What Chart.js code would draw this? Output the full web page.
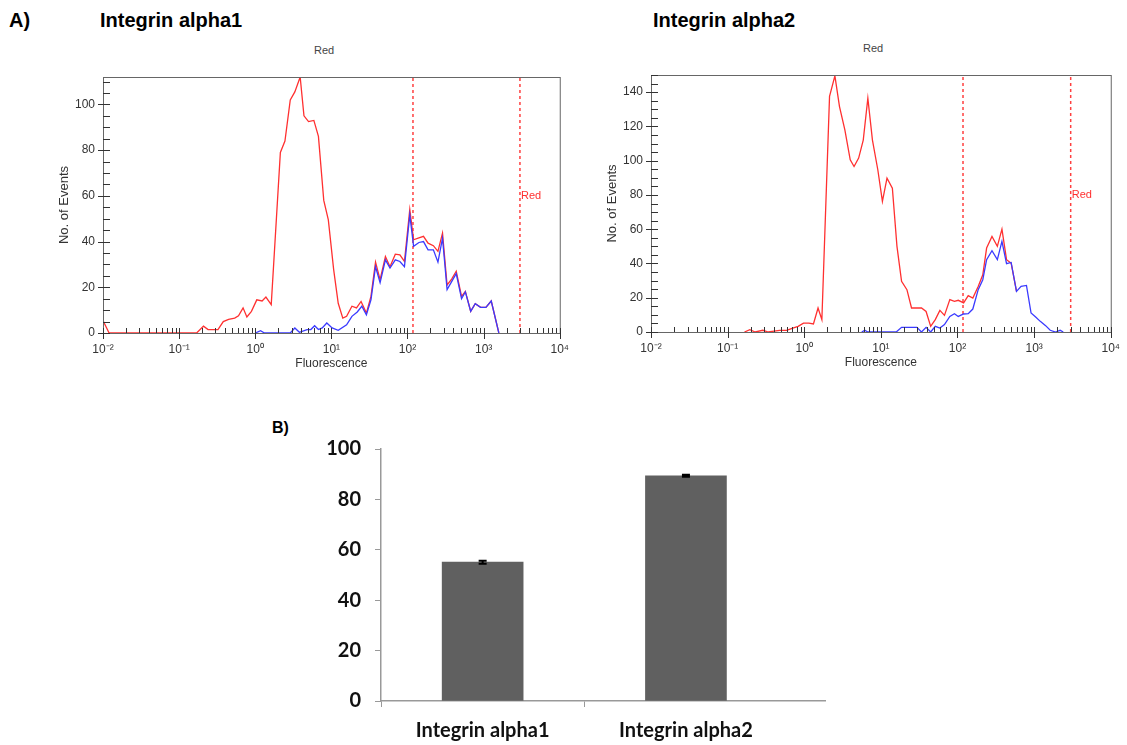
<!DOCTYPE html>
<html>
<head>
<meta charset="utf-8">
<script src="https://cdn.jsdelivr.net/npm/chart.js@4.4.0/dist/chart.umd.min.js"></script>
<style>
body{margin:0;background:#fff;width:1127px;height:745px;position:relative;overflow:hidden;font-family:"Liberation Sans",Arial,sans-serif;}
.big{position:absolute;font-weight:bold;font-size:20px;line-height:20px;color:#000;white-space:nowrap;}
.red{position:absolute;font-size:11px;line-height:11px;color:#444;}
canvas{position:absolute;}
</style>
</head>
<body>
<div class="big" style="left:9px;top:10px">A)</div>
<div class="big" style="left:100px;top:10px">Integrin alpha1</div>
<div class="big" style="left:653px;top:10px">Integrin alpha2</div>
<div class="red" style="left:314px;top:45px">Red</div>
<div class="red" style="left:863px;top:43px">Red</div>
<div class="big" style="left:272px;top:420px;font-size:16px;line-height:16px">B)</div>

<canvas id="h1" width="528" height="311" style="left:50px;top:60px"></canvas>
<canvas id="h2" width="531" height="312" style="left:598px;top:58px"></canvas>
<canvas id="bars" width="535" height="322" style="left:300px;top:423px"></canvas>

<script>
// histogram x values are in decades (log10 of fluorescence)
const a1RedX = [-2, -1.92, -0.77, -0.68, -0.62, -0.49, -0.42, -0.35, -0.27, -0.22, -0.16, -0.11, -0.05, 0.02, 0.09, 0.14, 0.21, 0.33, 0.39, 0.46, 0.52, 0.59, 0.64, 0.7, 0.77, 0.83, 0.9, 0.96, 1.03, 1.09, 1.15, 1.2, 1.27, 1.33, 1.39, 1.46, 1.52, 1.58, 1.64, 1.71, 1.77, 1.84, 1.9, 1.96, 2.03, 2.08, 2.14, 2.21, 2.27, 2.34, 2.4, 2.46, 2.52, 2.58, 2.64, 2.71, 2.76, 2.83, 2.89, 2.96, 3.03, 3.1, 3.2];
const a1RedY = [5.5, 0, 0, 3, 1.5, 1.5, 5, 6, 6.5, 7.5, 11, 7, 9.5, 14.5, 14, 15.7, 12.4, 79, 84, 102, 105.5, 112, 95, 92.5, 93, 86, 58, 49.5, 27.7, 13, 6.5, 7.3, 11.7, 11, 13.8, 8.7, 16, 31, 23.3, 33.5, 29, 34.5, 34.2, 31.3, 54, 40.8, 41.5, 42.3, 39.3, 38.2, 35.7, 43.7, 21, 23.6, 27, 16, 18.2, 9.5, 12.8, 11.2, 11.2, 14, 0];
const a1BlueX = [0, 0.07, 0.12, 0.46, 0.52, 0.58, 0.68, 0.73, 0.78, 0.83, 0.88, 0.94, 1.01, 1.09, 1.2, 1.27, 1.34, 1.4, 1.46, 1.52, 1.58, 1.64, 1.71, 1.77, 1.84, 1.9, 1.96, 2.03, 2.08, 2.15, 2.21, 2.27, 2.34, 2.4, 2.46, 2.52, 2.58, 2.64, 2.71, 2.76, 2.83, 2.89, 2.96, 3.03, 3.1, 3.2];
const a1BlueY = [0, 1, 0, 0, 2.2, 0.3, 1.5, 1.5, 3.2, 1.5, 2.2, 4.4, 2.2, 1.2, 3.6, 7.3, 9.2, 11.7, 8, 14.5, 29, 22, 32, 28.4, 32, 31.3, 29, 51.7, 37.9, 39.6, 40, 36.4, 36.4, 31, 41.5, 19, 22.5, 26, 15, 18, 9.5, 12.8, 11.2, 11.2, 14, 0];

const a2RedX = [-0.78, -0.71, -0.64, -0.54, -0.47, -0.32, -0.23, -0.15, -0.08, -0.01, 0.06, 0.12, 0.18, 0.23, 0.33, 0.4, 0.46, 0.53, 0.6, 0.65, 0.71, 0.77, 0.83, 0.89, 0.96, 1.02, 1.08, 1.15, 1.21, 1.27, 1.34, 1.4, 1.47, 1.53, 1.59, 1.65, 1.71, 1.77, 1.83, 1.9, 1.96, 2.01, 2.08, 2.14, 2.2, 2.27, 2.33, 2.38, 2.45, 2.52, 2.58, 2.64, 2.7, 2.77];
const a2RedY = [0, 1.4, 0, 1, 0, 1, 1, 2.3, 3.3, 5.2, 5.2, 4.7, 14, 7.2, 137.5, 149.5, 131.6, 118, 100.5, 96.6, 101.5, 112, 136.5, 112, 94.7, 76.2, 89.8, 84, 50, 29.6, 24.7, 14, 14, 14, 12, 3.3, 7.2, 12.6, 9.7, 18.9, 17.9, 18.5, 17, 21.2, 19.8, 26.6, 33.4, 49, 55.8, 50, 60, 42.2, 40.2, 23.7];
const a2BlueX = [0.75, 0.79, 0.83, 1.2, 1.27, 1.47, 1.53, 1.59, 1.65, 1.71, 1.77, 1.83, 1.9, 1.96, 2.01, 2.08, 2.14, 2.2, 2.27, 2.33, 2.38, 2.45, 2.52, 2.58, 2.64, 2.7, 2.77, 2.83, 2.9, 2.96, 3.02, 3.08, 3.15, 3.21, 3.28, 3.34, 3.38];
const a2BlueY = [0, 1, 0, 0, 2.7, 2.7, 0, 2.7, 0, 3.3, 2.3, 4.3, 9.1, 10.7, 9.1, 10.5, 10.7, 13.4, 24.7, 30.5, 42.2, 47.4, 42.2, 52.9, 39.9, 40.6, 23.7, 26.6, 27.2, 11.1, 8.7, 6.2, 3.7, 1, 0, 1, 0];

const decades = [-2, -1, 0, 1, 2, 3, 4];
const decadeLabels = ['10⁻²', '10⁻¹', '10⁰', '10¹', '10²', '10³', '10⁴'];
const gates = [118, 3000];   // marker lines, fluorescence units

const barCats = ['Integrin alpha1', 'Integrin alpha2'];
const barVals = [55.1, 89.4];
const barErr = [0.6, 0.4];
const barTicks = [0, 20, 40, 60, 80, 100];

Chart.defaults.font.family = '"Liberation Sans", Arial, sans-serif';

const pts = (xs, ys) => xs.map((x, i) => ({x: x, y: ys[i]}));

function logTicks() {
    let t = [];
    decades.forEach(d => {
        t.push({value: d});
        if (d < 4) for (let k = 2; k <= 9; k++) t.push({value: d + Math.log10(k)});
    });
    return t;
}

// frame, tick marks and the gate label
const frameTicks = {
    id: 'frameTicks',
    afterDraw(chart, args, opts) {
        const {ctx, chartArea: a, scales: {x, y}} = chart;
        ctx.save();
        ctx.strokeStyle = '#666';
        ctx.lineWidth = 1;
        ctx.strokeRect(a.left + 0.5, a.top + 0.5, a.right - a.left, a.bottom - a.top);
        ctx.strokeStyle = '#333';
        ctx.beginPath();
        x.ticks.forEach(t => {
            const px = Math.round(x.getPixelForValue(t.value)) + 0.5;
            const major = decades.indexOf(t.value) >= 0;
            ctx.moveTo(px, a.bottom + (major ? 6 : 0));
            ctx.lineTo(px, a.bottom - 5);
        });
        y.ticks.forEach(t => {
            const py = Math.round(y.getPixelForValue(t.value)) + 0.5;
            const major = t.value % 20 === 0;
            ctx.moveTo(a.left - (major ? 5 : 0), py);
            ctx.lineTo(a.left + 7, py);
        });
        ctx.stroke();
        const gx = x.getPixelForValue(Math.log10(gates[1]));
        ctx.fillStyle = '#ff3030';
        ctx.font = '11px "Liberation Sans", Arial';
        ctx.textBaseline = 'middle';
        ctx.fillText('Red', gx + 1, y.getPixelForValue(opts.labelY));
        ctx.restore();
    }
};

function histo(id, redX, redY, blueX, blueY, yMax, labelY) {
    const gateSets = gates.map(g => ({
        data: [{x: Math.log10(g), y: 0}, {x: Math.log10(g), y: yMax}],
        borderColor: '#ff4040', borderWidth: 1.5, borderDash: [3, 3], pointRadius: 0
    }));
    return new Chart(document.getElementById(id), {
        type: 'line',
        data: {
            datasets: [
                {data: pts(blueX, blueY), borderColor: '#3a3aff', borderWidth: 1.3, pointRadius: 0},
                {data: pts(redX, redY), borderColor: '#ff3030', borderWidth: 1.3, pointRadius: 0},
                ...gateSets
            ]
        },
        options: {
            responsive: false,
            animation: false,
            layout: {padding: {top: 17, right: 0, left: 0, bottom: 0}},
            plugins: {legend: {display: false}, tooltip: {enabled: false}, frameTicks: {labelY: labelY}},
            scales: {
                x: {
                    type: 'linear', min: -2, max: 4,
                    afterBuildTicks: s => { s.ticks = logTicks(); },
                    afterFit: s => { s.height = 38; },
                    grid: {display: false, drawTicks: false},
                    border: {display: true, color: '#333'},
                    ticks: {
                        autoSkip: false, maxRotation: 0, padding: 9, color: '#333', font: {size: 12},
                        callback: v => { const i = decades.indexOf(v); return i >= 0 ? decadeLabels[i] : ''; }
                    },
                    title: {display: true, text: 'Fluorescence', color: '#333', font: {size: 12}, padding: 0}
                },
                y: {
                    min: 0, max: yMax,
                    afterBuildTicks: s => {
                        let t = [];
                        for (let v = 0; v <= yMax; v += 5) t.push({value: v});
                        s.ticks = t;
                    },
                    afterFit: s => { s.width = 53; },
                    grid: {display: false, drawTicks: false},
                    border: {display: true, color: '#333'},
                    ticks: {autoSkip: false, padding: 8, color: '#333', font: {size: 12},
                        callback: v => v % 20 === 0 ? v : ''},
                    title: {display: true, text: 'No. of Events', color: '#333', font: {size: 13}, padding: {top: 7}}
                }
            }
        },
        plugins: [frameTicks]
    });
}

histo('h1', a1RedX, a1RedY, a1BlueX, a1BlueY, 112, 60);
histo('h2', a2RedX, a2RedY, a2BlueX, a2BlueY, 150, 80);

const errorBars = {
    id: 'errorBars',
    afterDatasetsDraw(chart) {
        const {ctx, scales: {x, y}} = chart;
        ctx.save();
        ctx.strokeStyle = '#000';
        ctx.lineWidth = 2;
        barVals.forEach((v, i) => {
            const px = x.getPixelForValue(i + 0.5);
            const top = y.getPixelForValue(v + barErr[i]);
            const bot = y.getPixelForValue(v - barErr[i]);
            ctx.beginPath();
            ctx.moveTo(px, top); ctx.lineTo(px, bot);
            ctx.moveTo(px - 4, top); ctx.lineTo(px + 4, top);
            ctx.moveTo(px - 4, bot); ctx.lineTo(px + 4, bot);
            ctx.stroke();
        });
        ctx.restore();
    }
};

const barFont = {family: 'Lato, "Open Sans", sans-serif', weight: 'bold'};

new Chart(document.getElementById('bars'), {
    type: 'bar',
    data: {
        datasets: [{
            data: barVals.map((v, i) => ({x: i + 0.5, y: v})),
            backgroundColor: '#606060',
            barThickness: 81
        }]
    },
    options: {
        responsive: false,
        animation: false,
        layout: {padding: {top: 0, right: 10, left: 0, bottom: 0}},
        plugins: {legend: {display: false}, tooltip: {enabled: false}},
        scales: {
            x: {
                type: 'linear', min: 0, max: 2.184, offset: false,
                afterBuildTicks: s => { s.ticks = [0, 0.5, 1, 1.5].map(v => ({value: v})); },
                afterFit: s => { s.height = 44; },
                grid: {offset: false, drawOnChartArea: false, tickLength: 6,
                    tickColor: c => Number.isInteger(c.tick.value) ? '#999' : 'rgba(0,0,0,0)'},
                border: {color: '#999', width: 1.5},
                ticks: {autoSkip: false, maxRotation: 0, padding: 12, color: '#111',
                    font: Object.assign({size: 20}, barFont),
                    callback: v => v === 0.5 ? barCats[0] : (v === 1.5 ? barCats[1] : '')}
            },
            y: {
                min: 0, max: 100,
                afterBuildTicks: s => { s.ticks = barTicks.map(v => ({value: v})); },
                afterFit: s => { s.width = 81; },
                grid: {drawOnChartArea: false, tickLength: 6, color: '#999'},
                border: {color: '#999', width: 1.5},
                ticks: {padding: 14, color: '#111', font: Object.assign({size: 20}, barFont)}
            }
        }
    },
    plugins: [errorBars]
});
</script>
</body>
</html>
